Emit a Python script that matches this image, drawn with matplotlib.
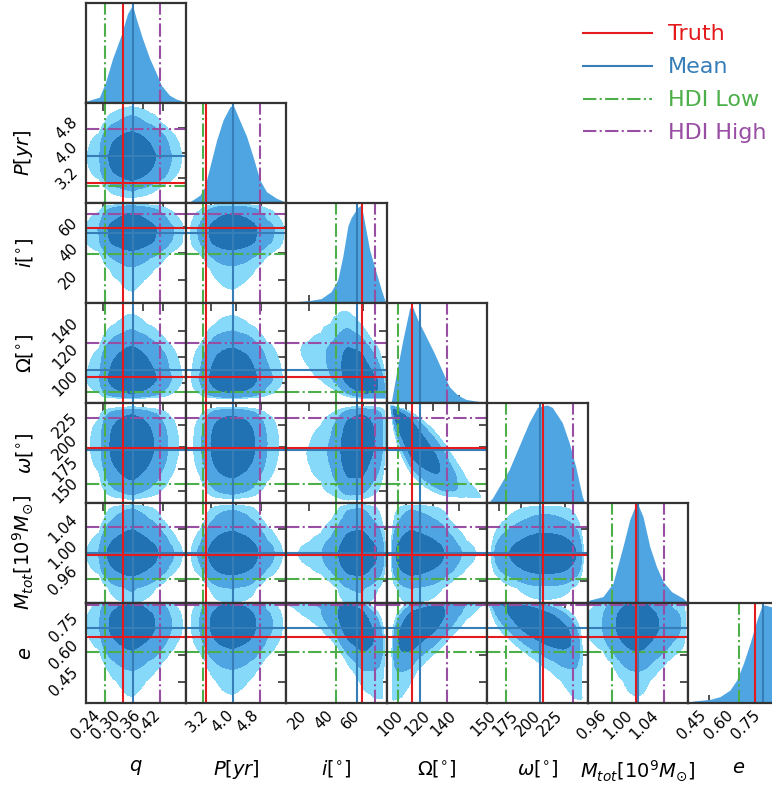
import math
import numpy as np
import matplotlib
matplotlib.use('Agg')
import matplotlib.pyplot as plt
from matplotlib.lines import Line2D

# parameters
labels = [r'$q$', r'$P[yr]$', r'$i[^{\circ}]$', r'$\Omega[^{\circ}]$',
          r'$\omega[^{\circ}]$', r'$M_{tot}[10^9M_{\odot}]$', r'$e$']

truth = [0.300, 3.035, 59.4, 104.6, 199.6, 1.001, 0.703]
mean = [0.330, 3.91, 55.5, 110.5, 197.0, 1.004, 0.753]
hdi_low = [0.2475, 2.94, 39.8, 93.8, 157.7, 0.963, 0.617]
hdi_high = [0.4125, 4.76, 69.5, 131.0, 233.8, 1.044, 0.878]

ranges = [(0.1875, 0.489), (2.41, 5.6), (2.6, 78.1), (85.2, 161.0),
          (136.4, 250.6), (0.9259, 1.0808), (0.330, 0.892)]
ticks = [[0.24, 0.30, 0.36, 0.42], [3.2, 4.0, 4.8], [20, 40, 60],
         [100, 120, 140], [150, 175, 200, 225], [0.96, 1.00, 1.04],
         [0.45, 0.60, 0.75]]
tick_fmt = ['%.2f', '%.1f', '%d', '%d', '%d', '%.2f', '%.2f']

# marginal densities (relative height)
q_x = [0.1875, 0.1905, 0.2295, 0.2475, 0.2685, 0.2955, 0.3135, 0.3255, 0.3285,
       0.340, 0.3585, 0.3795, 0.4005, 0.4155, 0.4395, 0.4605, 0.4785, 0.489]
q_d = [0.0, 0.02, 0.06, 0.21, 0.45, 0.70, 0.91, 0.98, 1.0,
       0.86, 0.66, 0.46, 0.30, 0.18, 0.08, 0.04, 0.02, 0.0]
p_x = [2.41, 2.537, 2.854, 3.013, 3.172, 3.385, 3.594, 3.807, 3.912,
       4.07, 4.337, 4.546, 4.759, 4.972, 5.289, 5.499, 5.6]
p_d = [0.0, 0.013, 0.08, 0.167, 0.37, 0.64, 0.85, 0.98, 1.0,
       0.88, 0.68, 0.47, 0.235, 0.115, 0.048, 0.02, 0.0]
i_x = [2.6, 4.9, 20, 28.8, 36.3, 41.3, 45.1, 48.9, 51.4, 56.4, 59.0,
       61.5, 65.2, 70.3, 74.1, 76.6, 78.1]
i_d = [0.0, 0.008, 0.025, 0.045, 0.116, 0.237, 0.477, 0.787, 0.873, 0.976, 1.0,
       0.82, 0.546, 0.306, 0.134, 0.03, 0.0]
om_x = [85.2, 88.0, 88.7, 92.5, 97.4, 102.5, 104.2, 108.7, 115.0, 121.2,
        127.4, 132.5, 138.7, 145.0, 154.9, 161.0]
om_d = [0.0, 0.0, 0.013, 0.302, 0.643, 0.966, 1.0, 0.847, 0.677, 0.507,
        0.319, 0.166, 0.082, 0.037, 0.015, 0.0]
w_x = [137.5, 142.4, 161.4, 172.8, 184.1, 193.5, 199.2, 204.6, 210.6,
       221.9, 229.6, 237.2, 244.7, 247.7]
w_d = [0.0, 0.05, 0.34, 0.58, 0.82, 0.975, 0.99, 1.0, 0.975,
       0.82, 0.62, 0.37, 0.065, 0.0]
m_x = [0.9259, 0.929, 0.9496, 0.9651, 0.9806, 0.991, 0.9988, 1.004, 1.0116,
       1.022, 1.0324, 1.0426, 1.0557, 1.0737, 1.0808]
m_d = [0.0, 0.03, 0.065, 0.2, 0.575, 0.85, 0.98, 1.0, 0.88,
       0.575, 0.37, 0.218, 0.115, 0.048, 0.0]
e_x = [0.330, 0.36, 0.4536, 0.5098, 0.566, 0.6036, 0.641, 0.678, 0.716,
       0.744, 0.76, 0.80, 0.83, 0.86, 0.892]
e_d = [0.0, 0.02, 0.037, 0.065, 0.133, 0.235, 0.405, 0.609, 0.847,
       0.99, 1.0, 0.98, 0.85, 0.6, 0.4]
marg_x = [q_x, p_x, i_x, om_x, w_x, m_x, e_x]
marg_d = [q_d, p_d, i_d, om_d, w_d, m_d, e_d]

rho = {(2, 3): -0.45, (2, 4): 0.15, (3, 4): -0.8,
       (2, 6): -0.5, (3, 6): 0.55, (4, 6): -0.6}
masses = [0.98, 0.92, 0.65]

c_light, c_mid, c_dark = '#87d9fa', '#4fa5e2', '#2172b3'
c_diag = '#4fa5e2'
c_truth, c_mean, c_low, c_high = '#e41a1c', '#377eb8', '#4daf4a', '#984ea3'
c_frame = '#333333'

zt = np.linspace(-6, 6, 4001)
ct = 0.5 * (1 + np.array([math.erf(z / math.sqrt(2)) for z in zt]))


def normal_score(v, xs, ds):
    fine = np.linspace(xs[0], xs[-1], 2000)
    dens = np.interp(fine, xs, ds)
    cdf = np.concatenate([[0], np.cumsum((dens[1:] + dens[:-1]) / 2 * np.diff(fine))])
    cdf /= cdf[-1]
    u = np.clip(np.interp(v, fine, cdf), 1e-6, 1 - 1e-6)
    return np.interp(u, ct, zt)


def pair_density(c, r):
    gx = np.linspace(ranges[c][0], ranges[c][1], 160)
    gy = np.linspace(ranges[r][0], ranges[r][1], 160)
    X, Y = np.meshgrid(gx, gy)
    fx = np.interp(X, marg_x[c], marg_d[c], left=0, right=0)
    fy = np.interp(Y, marg_x[r], marg_d[r], left=0, right=0)
    a = normal_score(X, marg_x[c], marg_d[c])
    b = normal_score(Y, marg_x[r], marg_d[r])
    p = rho.get((c, r), 0.0)
    cop = np.exp(-(p**2 * (a**2 + b**2) - 2 * p * a * b) / (2 * (1 - p**2))) / np.sqrt(1 - p**2)
    return X, Y, cop * fx * fy


def hpd_levels(Z, ms):
    s = np.sort(Z.ravel())[::-1]
    cum = np.cumsum(s) / s.sum()
    return [s[min(np.searchsorted(cum, m), len(s) - 1)] for m in ms]


W, H = 772.0, 785.0
n = 7
pw, ph = 100.4, 100.0
x0, y0 = 85.5, 3.0

fig = plt.figure(figsize=(7.72, 7.85), dpi=100)

for r in range(n):
    for c in range(r + 1):
        ax = fig.add_axes([(x0 + c * pw) / W, (H - y0 - (r + 1) * ph) / H, pw / W, ph / H])
        ax.set_axisbelow(True)
        for s in ax.spines.values():
            s.set_linewidth(1.6)
            s.set_color(c_frame)
        ax.set_xlim(ranges[c])
        xt_lab = [tick_fmt[c] % t for t in ticks[c]]
        if r == n - 1:
            ax.set_xticks(ticks[c], xt_lab, rotation=45, ha='right', fontsize=11)
            ax.set_xlabel(labels[c], fontsize=14)
            ax.xaxis.set_label_coords(0.5, -0.55)
        else:
            ax.set_xticks(ticks[c])
        if r == c:
            ax.fill_between(marg_x[c], 0, marg_d[c], color=c_diag, lw=0)
            ax.set_ylim(0, 1.02)
            ax.set_yticks([])
            ax.tick_params(axis='x', direction='in', length=6, width=1.2, color=c_frame,
                           bottom=True, top=False, labelbottom=(r == n - 1))
            ax.axvline(hdi_low[c], color=c_low, ls='-.', lw=1.5)
            ax.axvline(hdi_high[c], color=c_high, ls='-.', lw=1.5)
            ax.axvline(mean[c], color=c_mean, lw=1.5)
            ax.axvline(truth[c], color=c_truth, lw=1.5)
        else:
            X, Y, Z = pair_density(c, r)
            lv = hpd_levels(Z, masses)
            ax.contourf(X, Y, Z, levels=lv + [Z.max() * 1.01],
                        colors=[c_light, c_mid, c_dark])
            ax.set_ylim(ranges[r])
            yt_lab = [tick_fmt[r] % t for t in ticks[r]]
            if c == 0:
                ax.set_yticks(ticks[r], yt_lab, rotation=45, va='center', ha='right', fontsize=11)
                ax.set_ylabel(labels[r], fontsize=14)
                ax.yaxis.set_label_coords(-0.5, 0.5)
            else:
                ax.set_yticks(ticks[r])
            ax.tick_params(direction='in', length=6, width=1.2, color=c_frame,
                           bottom=False, left=False, top=True, right=True,
                           labelbottom=(r == n - 1), labelleft=(c == 0))
            ax.axvline(hdi_low[c], color=c_low, ls='-.', lw=1.5)
            ax.axvline(hdi_high[c], color=c_high, ls='-.', lw=1.5)
            ax.axhline(hdi_low[r], color=c_low, ls='-.', lw=1.5)
            ax.axhline(hdi_high[r], color=c_high, ls='-.', lw=1.5)
            ax.axvline(mean[c], color=c_mean, lw=1.5)
            ax.axhline(mean[r], color=c_mean, lw=1.5)
            ax.axvline(truth[c], color=c_truth, lw=1.5)
            ax.axhline(truth[r], color=c_truth, lw=1.5)

handles = [Line2D([], [], color=c_truth, lw=1.5),
           Line2D([], [], color=c_mean, lw=1.5),
           Line2D([], [], color=c_low, lw=1.5, ls='-.'),
           Line2D([], [], color=c_high, lw=1.5, ls='-.')]
leg = fig.legend(handles, ['Truth', 'Mean', 'HDI Low', 'HDI High'],
                 loc='upper left', bbox_to_anchor=(583 / W, 1 - 24.5 / H),
                 frameon=False, fontsize=16, handlelength=3.1,
                 handletextpad=0.72, labelspacing=0.58, borderpad=0,
                 borderaxespad=0)
for t, col in zip(leg.get_texts(), [c_truth, c_mean, c_low, c_high]):
    t.set_color(col)

fig.savefig('out.png', dpi=100)
